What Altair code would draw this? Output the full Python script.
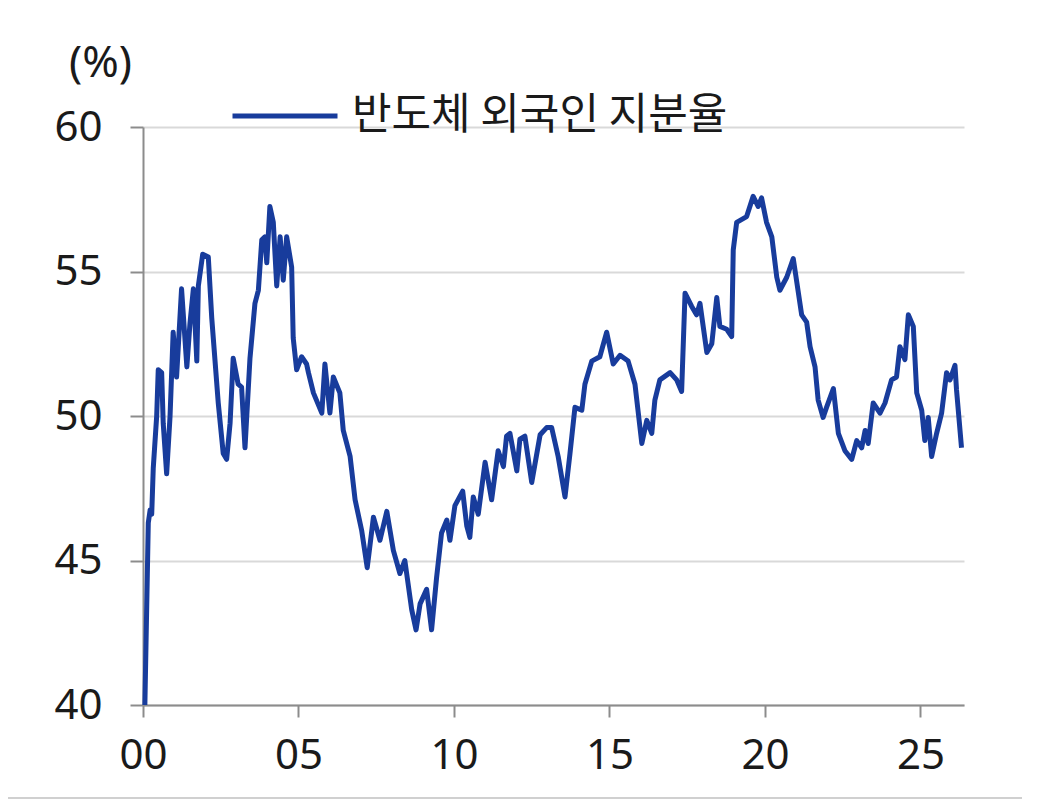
import altair as alt
import pandas as pd

# years since 2000 (decimal) and foreign ownership share (%)
years = [0.06, 0.17, 0.23, 0.28, 0.33, 0.44, 0.49, 0.60, 0.65, 0.76, 0.87, 0.97, 1.08, 1.24, 1.41,
         1.51, 1.62, 1.73, 1.78, 1.92, 2.10, 2.21, 2.42, 2.58, 2.69, 2.80, 2.90, 3.06, 3.17, 3.28,
         3.44, 3.60, 3.71, 3.82, 3.92, 3.98, 4.08, 4.19, 4.30, 4.41, 4.51, 4.62, 4.78, 4.83, 4.94,
         5.10, 5.26, 5.32, 5.48, 5.75, 5.85, 6.01, 6.12, 6.33, 6.44, 6.66, 6.82, 7.03, 7.21, 7.41,
         7.62, 7.84, 8.05, 8.26, 8.42, 8.64, 8.78, 8.91, 9.12, 9.28, 9.44, 9.60, 9.77, 9.87, 10.03,
         10.28, 10.41, 10.51, 10.62, 10.78, 11.00, 11.21, 11.42, 11.59, 11.69, 11.80, 12.02, 12.12,
         12.28, 12.50, 12.77, 12.98, 13.14, 13.35, 13.57, 13.73, 13.89, 14.11, 14.21, 14.43, 14.69,
         14.91, 15.12, 15.34, 15.60, 15.82, 16.04, 16.20, 16.36, 16.46, 16.62, 16.95, 17.16, 17.32,
         17.43, 17.64, 17.80, 17.91, 18.13, 18.29, 18.45, 18.55, 18.77, 18.93, 18.98, 19.09, 19.41,
         19.62, 19.78, 19.89, 20.05, 20.22, 20.38, 20.48, 20.70, 20.91, 21.18, 21.34, 21.45, 21.61,
         21.71, 21.87, 21.98, 22.20, 22.36, 22.57, 22.79, 22.95, 23.11, 23.22, 23.32, 23.48, 23.70,
         23.86, 24.07, 24.23, 24.34, 24.50, 24.61, 24.77, 24.88, 25.04, 25.14, 25.25, 25.36, 25.52,
         25.68, 25.84, 25.95, 26.11, 26.16, 26.32]
share = [40.0, 46.3, 46.75, 46.6, 48.2, 50.0, 51.6, 51.5, 49.75, 48.0, 50.0, 52.9, 51.35, 54.4, 51.7,
         53.2, 54.4, 51.9, 54.5, 55.6, 55.5, 53.4, 50.45, 48.7, 48.5, 49.75, 52.0, 51.1, 51.0, 48.9,
         52.0, 53.9, 54.35, 56.1, 56.2, 55.3, 57.25, 56.7, 54.5, 56.2, 54.7, 56.2, 55.15, 52.7, 51.6,
         52.05, 51.8, 51.5, 50.8, 50.1, 51.8, 50.1, 51.35, 50.8, 49.5, 48.6, 47.1, 46.05, 44.75, 46.5,
         45.7, 46.7, 45.35, 44.55, 45.0, 43.3, 42.6, 43.5, 44.0, 42.6, 44.4, 45.95, 46.4, 45.7, 46.9,
         47.4, 46.2, 45.8, 47.2, 46.6, 48.4, 47.1, 48.8, 48.25, 49.3, 49.4, 48.1, 49.2,
         49.3, 47.7, 49.35, 49.6, 49.6, 48.6, 47.2, 48.7, 50.3, 50.2, 51.1, 51.9, 52.05,
         52.9, 51.8, 52.1, 51.9, 51.1, 49.05, 49.85, 49.4, 50.55, 51.25, 51.5, 51.25, 50.85,
         54.25, 53.8, 53.5, 53.9, 52.2, 52.5, 54.1, 53.1, 53.0, 52.75, 55.75, 56.7, 56.9,
         57.6, 57.25, 57.55, 56.7, 56.2, 54.8, 54.35, 54.8, 55.45, 53.5, 53.25, 52.4, 51.7,
         50.55, 49.95, 50.3, 50.95, 49.4, 48.8, 48.5, 49.15, 48.9, 49.5, 49.05, 50.45, 50.1,
         50.45, 51.25, 51.35, 52.4, 51.95, 53.5, 53.1, 50.8, 50.2, 49.15, 49.95, 48.6, 49.4,
         50.1, 51.5, 51.25, 51.75, 50.9, 48.9]
series_name = "반도체 외국인 지분율"
x_ticks = [0, 5, 10, 15, 20, 25]
y_ticks = [40, 45, 50, 55, 60]

df = pd.DataFrame({"t": years, "share": share, "series": [series_name] * len(years)})

FONT = "Noto Sans"
LINE_COLOR = "#183c9c"
AXIS_COLOR = "#8c8c8c"

line = alt.Chart(df).mark_line(strokeWidth=5, strokeJoin="round", clip=False).encode(
    x=alt.X("t:Q",
            scale=alt.Scale(domain=[0, 26.4], nice=False, zero=False),
            axis=alt.Axis(values=x_ticks, title=None, grid=False,
                          labelExpr="datum.value < 10 ? '0' + datum.value : '' + datum.value",
                          labelFlush=False, labelOverlap=False,
                          labelFont=FONT, labelFontSize=42, labelColor="#1a1a1a",
                          labelPadding=18, tickSize=12, tickWidth=2, tickColor=AXIS_COLOR,
                          domainColor=AXIS_COLOR, domainWidth=2)),
    y=alt.Y("share:Q",
            scale=alt.Scale(domain=[40, 60], nice=False, zero=False),
            axis=alt.Axis(values=y_ticks, title="(%)", titleAngle=0, titleAlign="center",
                          titleBaseline="bottom", titleX=-43, titleY=-42,
                          titleFont=FONT, titleFontSize=44, titleFontWeight="normal",
                          titleColor="#1a1a1a",
                          grid=True, gridColor="#d9d9d9", gridWidth=2,
                          labelFont=FONT, labelFontSize=42, labelColor="#1a1a1a",
                          labelPadding=28, tickSize=13, tickWidth=2, tickColor=AXIS_COLOR,
                          domainColor=AXIS_COLOR, domainWidth=2)),
    color=alt.Color("series:N",
                    scale=alt.Scale(domain=[series_name], range=[LINE_COLOR]),
                    legend=alt.Legend(title=None, orient="none", legendX=87, legendY=-66,
                                      symbolType="stroke", symbolSize=11025,
                                      symbolStrokeWidth=5, labelFont="Noto Sans CJK KR",
                                      labelFontSize=43, labelColor="#1a1a1a", labelLimit=0,
                                      labelOffset=12, padding=0)),
)

frame = alt.Chart(df).mark_rule(color="#d0d0d0", strokeWidth=2, clip=False).encode(
    x=alt.value(-143), x2=alt.value(879), y=alt.value(671)
)

chart = alt.layer(line, frame).properties(
    width=821, height=578,
    autosize=alt.AutoSizeParams(type="none"),
    padding={"left": 135, "top": 119, "right": 80, "bottom": 95},
    background="white",
).configure_view(stroke=None)

chart.save("out.html", embed_options={"renderer": "svg", "actions": False})
